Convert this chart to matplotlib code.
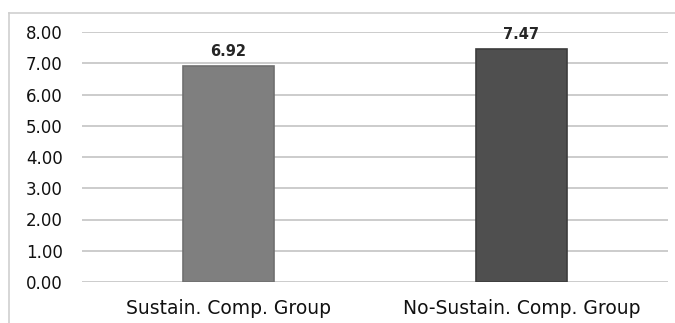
import matplotlib.pyplot as plt
from matplotlib.lines import Line2D

groups = ["Sustain. Comp. Group", "No-Sustain. Comp. Group"]
scores = [6.92, 7.47]
bar_colors = ["#7f7f7f", "#4f4f4f"]
edge_colors = ["#707070", "#3c3c3c"]
y_ticks = [0, 1, 2, 3, 4, 5, 6, 7, 8]

fig = plt.figure(figsize=(6.75, 3.23), dpi=100)
ax = fig.add_axes([82 / 675, 1 - 282 / 323, 586 / 675, 250 / 323])

# light frame: top and left edges only, the rest runs off the image
top_y = 1 - 13 / 323
left_x = 9 / 675
fig.lines.append(Line2D([left_x, 1.0], [top_y, top_y], transform=fig.transFigure,
                        color="#cfcfcf", linewidth=1.2))
fig.lines.append(Line2D([left_x, left_x], [0.0, top_y], transform=fig.transFigure,
                        color="#cfcfcf", linewidth=1.2))

x = range(len(groups))
bars = ax.bar(x, scores, width=0.31, color=bar_colors,
              edgecolor=edge_colors, linewidth=1.2, zorder=3)

for b, v in zip(bars, scores):
    ax.text(b.get_x() + b.get_width() / 2, v + 0.22, f"{v:.2f}",
            ha="center", va="bottom", fontsize=10.5, fontweight="bold",
            color="#262626", zorder=1)

ax.set_xlim(-0.5, 1.5)
ax.set_ylim(0, 8)
ax.set_yticks(y_ticks)
ax.set_yticklabels([f"{t:.2f}" for t in y_ticks])
ax.set_xticks(list(x))
ax.set_xticklabels(groups)

ax.yaxis.grid(True, color="#cccccc", linewidth=1.4, zorder=0)
ax.set_axisbelow(True)
for s in ax.spines.values():
    s.set_visible(False)
ax.tick_params(axis="y", length=0, pad=14, labelsize=12, labelcolor="#111111")
ax.tick_params(axis="x", length=0, pad=12, labelsize=13.5, labelcolor="#111111")

fig.savefig("out.png", dpi=100)
